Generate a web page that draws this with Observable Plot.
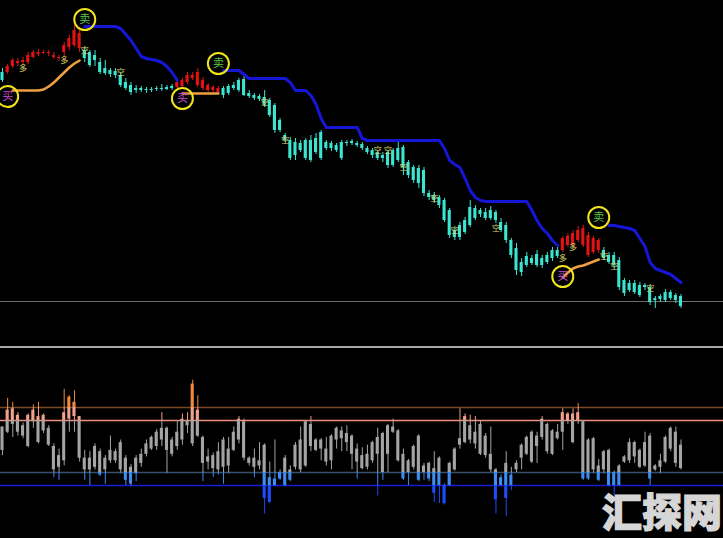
<!DOCTYPE html>
<html><head><meta charset="utf-8">
<script src="https://cdn.jsdelivr.net/npm/d3@7"></script>
<script src="https://cdn.jsdelivr.net/npm/@observablehq/plot@0.6"></script>
<style>
html,body{margin:0;padding:0;background:#000;width:723px;height:538px;overflow:hidden;}
#wrap{position:relative;width:723px;height:538px;background:#000;}
#sep{height:2px;background:#a8a8a8;}
#wm{position:absolute;left:602px;top:490px;font-family:"Noto Sans CJK SC";font-weight:900;font-size:40px;color:#d6d6d6;-webkit-text-stroke:1.2px #d6d6d6;line-height:1;white-space:nowrap;}
svg{display:block;}
</style></head><body>
<div id="wrap"><div id="topPanel"></div><div id="sep"></div><div id="botPanel"></div><div id="wm">汇探网</div></div>
<script>
// ---------- price panel (133 bars) ----------
const priceOpen = [328,328,334,337,338,338,343,346,347,348,345,343,348,353,355,367,350,348,345,
 338,332,330,329,325,318,315,312,310,311,310,311,312,311,312,313,314,318,322,328,320,315,313,312,312,307,312,310,305,307,305,304,303,300,295,280,
 265,260,245,257,242,240,248,242,258,257,255,242,258,259,257,256,252,250,248,245,248,235,240,253,238,233,232,230,207,205,203,200,190,170,163,
 168,175,192,190,182,190,188,178,175,160,152,138,135,137,146,135,138,142,150,150,155,155,160,172,165,162,160,150,145,145,140,120,117,108,115,113,
 113,102,101,100,108,105,104];
const priceClose = [320,334,340,339,340,345,348,348,348,347,343,342,355,362,370,352,342,335,340,
 328,327,326,325,315,312,308,310,312,310,311,312,311,313,314,318,320,325,325,315,312,310,310,308,305,314,315,320,321,304,302,301,295,285,270,270,
 260,242,258,250,260,260,262,268,252,252,250,258,257,257,255,252,248,245,242,242,235,250,252,233,225,220,217,207,203,200,195,180,165,163,175,
 180,193,182,186,188,182,180,170,160,145,130,128,144,142,135,142,145,150,144,162,164,167,170,155,145,148,150,142,138,135,113,107,110,117,105,115,
 98,100,104,108,102,100,94];
const priceHigh = [332,336,342,342,343,348,350,351,350,350,348,345,358,365,375,370,353,350,350,
 342,340,332,332,328,322,318,315,314,313,313,314,316,315,316,320,322,328,328,332,323,317,315,314,314,316,318,322,325,310,307,306,310,302,297,282,
 267,263,262,260,262,265,267,270,260,259,257,260,260,261,259,258,254,252,250,248,250,252,260,255,240,235,235,233,210,208,205,202,192,172,178,
 183,200,195,192,192,194,190,182,178,162,157,142,148,145,150,145,148,153,153,164,167,170,174,175,168,164,162,153,148,148,143,122,120,120,118,117,
 115,104,106,111,110,107,106];
const priceLow = [318,326,332,334,336,336,342,344,346,344,341,339,344,350,353,348,338,333,334,
 326,325,323,322,313,310,305,307,308,307,308,309,309,310,310,312,312,316,320,313,310,308,308,306,302,305,310,308,304,302,300,299,293,283,267,268,
 258,240,240,248,240,238,246,240,250,249,248,240,254,255,253,250,246,242,240,238,232,233,238,225,222,217,212,204,200,197,192,178,162,160,160,
 166,173,180,183,180,180,177,168,157,142,125,124,133,135,133,132,136,139,142,148,153,153,158,153,143,146,147,140,136,132,110,104,108,106,103,110,
 95,92,98,98,100,97,92];
const longRanges = [[1,15],[34,42],[109,116]];
const refLevel = 99;

const resistStart = [16, 43, 118];
const resist1 = [374,374,374,374,374,374,374,372,366,360,352,344,342,341,340,338,334,328,320];
const resist2 = [330,330,330,330,326,322,322,322,322,322,322,322,322,318,310,310,310,305,296,282,273,273,273,273,273,273,273,262,
 260,260,260,260,260,260,260,260,260,260,260,260,260,260,260,252,240,236,233,222,210,203,200,199,199,199,199,199,199,199,199,199,190,180,172,167,160,155];
const resist3 = [175,175,174,173,172,170,162,154,138,132,130,128,126,122,118];
const supportStart = [2, 35, 109];
const support1 = [310,310,310,310,310,310,311,314,318,323,328,333,337,340];
const support2 = [307,307,307,307,307,307,307,307];
const support3 = [123,128,132,134,135,137,139,141];

const sellBar = [16, 42, 116], sellPrice = [381, 337, 183];
const buyBar = [1, 35, 109], buyPrice = [304, 302, 124];
const longTagBar = [4, 12, 109, 111], longTagPrice = [332, 340, 142, 153];
const shortTagBar = [16, 23, 51, 55, 73, 75, 78, 84, 88, 96, 117, 119, 126];
const shortTagPrice = [350, 328, 298, 260, 250, 250, 233, 202, 170, 172, 144, 134, 112];

// ---------- oscillator panel ----------
const oscOpen = [47,61,79,74,58,74,69,73,62,64, 50,34,39,71,84,73,41,32,50,46, 32,39,46,32,41,34,29,44,44,48,
 50,55,64,55,50,55,66,52,78,57, 38,43,32,55,35,47,55,69,41,41, 35,51,26,25,30,41,24,34,32,35,
 67,55,48,48,39,55,62,53,58,48, 43,34,39,57,60,44,65,62,44,39, 34,58,35,37,33,41,20,37,48,51,
 53,66,61,44,58,44,32,26,37,28, 37,41,44,61,50,57,67,44,61,61, 70,75,70,69,55,56,35,46,47,30,
 35,42,39,53,34,35,58,35,34,38, 48,61,51];
const oscClose = [65,78,67,61,66,50,78,53,74,51, 32,43,76,88,73,41,32,41,34,28, 41,47,39,53,24,21,41,37,52,57,
 61,64,47,44,61,71,70,98,58,37, 42,33,46,34,48,61,71,41,37,34, 39,10,7,20,25,20,32,51,55,69,
 50,47,55,38,58,64,56,60,44,38, 33,44,53,44,30,66,61,39,25,30, 50,24,30,25,14,20,6,20,32,56,
 73,55,52,67,43,32,9,20,10,20, 32,51,57,38,58,71,46,62,56,76, 75,53,76,25,25,32,24,32,20,20,
 20,38,53,42,47,53,25,32,39,57, 64,37,33];
const oscHigh = [65,87,84,76,68,75,82,84,75,66, 52,48,94,89,93,73,47,46,52,48, 43,58,48,55,43,36,43,48,55,58,
 63,76,65,57,70,75,76,101,89,58, 48,45,53,57,57,65,73,71,42,48, 53,52,38,55,32,43,35,53,65,70,
 73,56,56,57,59,65,65,66,59,52, 49,51,54,64,61,67,71,63,48,40, 51,59,37,38,46,42,21,38,49,79,
 75,74,73,70,60,65,33,28,46,34, 39,52,58,62,61,73,68,63,67,79, 76,79,83,70,56,57,40,47,48,31,
 36,43,56,54,48,61,60,36,44,58, 65,65,55];
const oscLow = [43,60,57,58,56,49,64,52,60,50, 26,24,35,61,61,38,24,20,32,27, 21,37,37,29,20,19,23,34,42,47,
 47,50,29,42,47,51,60,50,57,23, 32,26,28,21,29,46,52,39,35,26, 32,-2,6,19,24,19,23,32,30,34,
 46,46,39,35,32,48,46,46,32,25, 32,32,37,12,24,30,60,38,24,20, 32,23,24,23,7,6,5,19,31,48,
 52,52,48,43,41,30,-2,19,-4,16, 30,32,43,37,37,55,44,43,55,47, 67,52,67,24,24,29,23,29,19,11,
 19,37,37,37,33,34,20,31,29,37, 46,34,32];
const oscLevels = [80, 70, 30, 20];

(function () {
const xScale = {domain: [-0.39, 140.27], range: [0, 723], axis: null};
const isLong = i => longRanges.some(([a, b]) => i >= a && i <= b);
const candles = priceOpen.map((o, i) => {
  const c = priceClose[i];
  let hi = Math.max(o, c), lo = Math.min(o, c);
  if (hi - lo < 1) { hi += 0.5; lo -= 0.5; }
  return {i, hi, lo, h: priceHigh[i], l: priceLow[i], col: isLong(i) ? "#e41212" : "#3ae6d2"};
});
const segPoints = (starts, arrays) => arrays.flatMap((arr, s) => arr.map((v, k) => ({i: starts[s] + k, v, s})));
const resistPts = segPoints(resistStart, [resist1, resist2, resist3]);
const supportPts = segPoints(supportStart, [support1, support2, support3]);
const sells = sellBar.map((b, k) => ({i: b, p: sellPrice[k]}));
const buys = buyBar.map((b, k) => ({i: b, p: buyPrice[k]}));
const longTags = longTagBar.map((b, k) => ({i: b, p: longTagPrice[k]}));
const shortTags = shortTagBar.map((b, k) => ({i: b, p: shortTagPrice[k]}));

const topChart = Plot.plot({
  width: 723, height: 346, margin: 0,
  x: xScale,
  y: {domain: [54, 400], range: [346, 0], axis: null},
  color: {type: "identity"},
  style: {background: "#000"},
  marks: [
    Plot.ruleY([refLevel], {stroke: "#6a6a6a", strokeWidth: 1}),
    Plot.ruleX(candles, {x: "i", y1: "l", y2: "h", stroke: "col", strokeWidth: 1}),
    Plot.rect(candles, {x1: d => d.i - 0.3, x2: d => d.i + 0.3, y1: "lo", y2: "hi", fill: "col"}),
    Plot.line(resistPts, {x: "i", y: "v", z: "s", stroke: "#1616d6", strokeWidth: 3}),
    Plot.line(supportPts, {x: "i", y: "v", z: "s", stroke: "#f0a040", strokeWidth: 2.5}),
    Plot.text(longTags, {x: "i", y: "p", text: () => "多", fill: "#d8d068", fontSize: 8, fontFamily: "Noto Sans CJK SC"}),
    Plot.text(shortTags, {x: "i", y: "p", text: () => "空", fill: "#d8d068", fontSize: 8, fontFamily: "Noto Sans CJK SC"}),
    Plot.dot(sells, {x: "i", y: "p", r: 10.5, stroke: "#f2e41c", strokeWidth: 2, fill: "none"}),
    Plot.dot(buys, {x: "i", y: "p", r: 10.5, stroke: "#f2e41c", strokeWidth: 2, fill: "none"}),
    Plot.text(sells, {x: "i", y: "p", text: () => "卖", fill: "#5cc84a", fontSize: 11, fontFamily: "Noto Sans CJK SC"}),
    Plot.text(buys, {x: "i", y: "p", text: () => "买", fill: "#c04ad0", fontSize: 11, fontFamily: "Noto Sans CJK SC"})
  ]
});
document.getElementById("topPanel").appendChild(topChart);

const bands = [
  {lo: 80, hi: 1e9, color: "#f08a3c"},
  {lo: 70, hi: 80, color: "#f2a08a"},
  {lo: 30, hi: 70, color: "#a4a4a4"},
  {lo: 20, hi: 30, color: "#3f8cf0"},
  {lo: -1e9, hi: 20, color: "#1c4cff"}
];
const wickSegs = [], bodySegs = [];
oscOpen.forEach((o, i) => {
  const c = oscClose[i];
  const t = Math.max(o, c), b = Math.min(o, c);
  for (const band of bands) {
    const w1 = Math.max(oscLow[i], band.lo), w2 = Math.min(oscHigh[i], band.hi);
    if (w2 > w1) wickSegs.push({i, y1: w1, y2: w2, color: band.color});
    const b1 = Math.max(b, band.lo), b2 = Math.min(t, band.hi);
    if (b2 > b1) bodySegs.push({i, y1: b1, y2: b2, color: band.color});
  }
});
const levelData = oscLevels.map((v, k) => ({v, color: ["#7a4826", "#f0907c", "#34506e", "#1c1cd4"][k]}));

const botChart = Plot.plot({
  width: 723, height: 190, margin: 0,
  x: xScale,
  y: {domain: [-20.77, 125.38], range: [190, 0], axis: null},
  color: {type: "identity"},
  style: {background: "#000"},
  marks: [
    Plot.ruleY(levelData, {y: "v", stroke: "color", strokeWidth: 1.5}),
    Plot.ruleX(wickSegs, {x: "i", y1: "y1", y2: "y2", stroke: "color", strokeWidth: 1}),
    Plot.rect(bodySegs, {x1: d => d.i - 0.3, x2: d => d.i + 0.3, y1: "y1", y2: "y2", fill: "color"})
  ]
});
document.getElementById("botPanel").appendChild(botChart);
})();
</script>
</body></html>
